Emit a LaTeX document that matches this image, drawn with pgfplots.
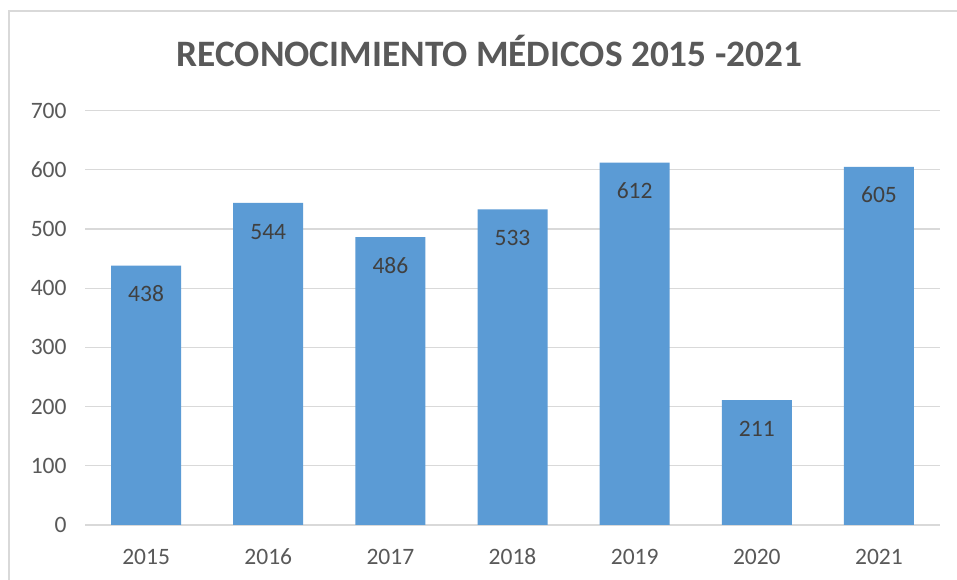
\documentclass[border=0pt]{standalone}
\usepackage{pgfplots}
\pgfplotsset{compat=1.18}
\usepackage{fontspec}
\setmainfont{Carlito}
\definecolor{barblue}{HTML}{5B9BD5}
\definecolor{txtgray}{HTML}{595959}
\definecolor{lblgray}{HTML}{404040}
\definecolor{gridgray}{HTML}{D9D9D9}
\begin{document}
\begin{tikzpicture}[x=1pt,y=1pt]
\path[use as bounding box, fill=white] (0,0) rectangle (957,580);
\draw[gridgray, line width=1.2pt] (9,0) -- (9,569) -- (957,569);
\node[font=\fontsize{37.3}{44}\selectfont\bfseries, text=txtgray] at (489.5,529) {RECONOCIMIENTO MÉDICOS 2015 -2021};
\begin{axis}[
  at={(146.1pt,55pt)}, anchor=origin,
  scale only axis, width=855pt, height=414.5pt,
  xmin=-0.5, xmax=6.5, ymin=0, ymax=700,
  ytick={0,100,...,700},
  xtick=data,
  xticklabels={2015,2016,2017,2018,2019,2020,2021},
  axis line style={draw=none},
  major tick length=0pt,
  ymajorgrids, grid style={gridgray, line width=1.2pt},
  tick label style={font=\fontsize{23.5}{28}\selectfont, text=txtgray},
  /pgf/number format/assume math mode=true,
  yticklabel style={xshift=-15pt},
  xticklabel style={anchor=north, inner sep=0pt, text height=15pt, text depth=0pt, yshift=-24.5pt},
  ybar, bar width=70pt, bar shift=0pt,
  nodes near coords,
  every node near coord/.append style={anchor=north, inner sep=0pt, text height=15pt, text depth=0pt, yshift=-21pt, font=\fontsize{23.5}{28}\selectfont, text=lblgray},
]
\addplot[fill=barblue, draw=none] coordinates {(0,438) (1,544) (2,486) (3,533) (4,612) (5,211) (6,605)};
\end{axis}
\end{tikzpicture}
\end{document}
